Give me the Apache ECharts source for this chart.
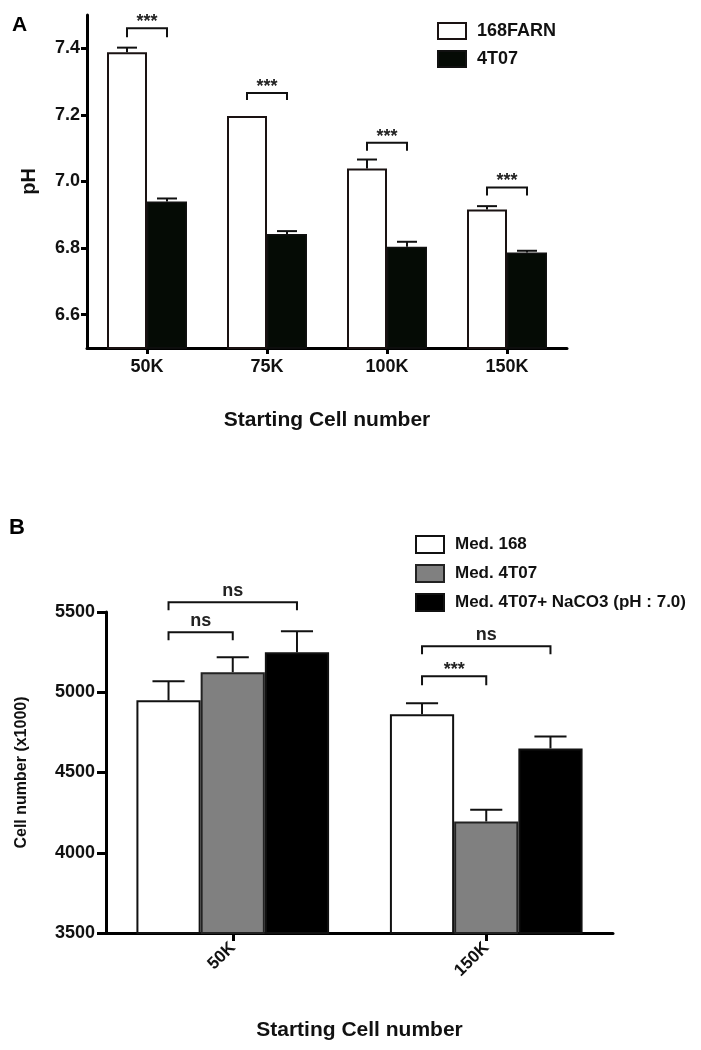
<!DOCTYPE html>
<html>
<head>
<meta charset="utf-8">
<script src="https://cdn.jsdelivr.net/npm/echarts@6/dist/echarts.min.js"></script>
<style>
html,body{margin:0;padding:0;background:#fff;}
#chart{width:701px;height:1050px;}
</style>
</head>
<body>
<div id="chart"></div>
<script>
// ---------- Panel A data ----------
const catsA = ['50K', '75K', '100K', '150K'];
const ph168 = [7.388, 7.197, 7.039, 6.916];
const ph168Err = [0.014, 0, 0.027, 0.010];
const ph4T07 = [6.940, 6.842, 6.804, 6.787];
const ph4T07Err = [0.009, 0.009, 0.015, 0.005];
const yTicksA = [6.6, 6.8, 7.0, 7.2, 7.4];
// [category, fromBar, toBar, lineValue, legValue, label]
const sigA = [
  [0, 0, 1, 7.460, 7.433, '***'],
  [1, 0, 1, 7.266, 7.245, '***'],
  [2, 0, 1, 7.116, 7.092, '***'],
  [3, 0, 1, 6.982, 6.958, '***']
];

// ---------- Panel B data ----------
const catsB = ['50K', '150K'];
const med168 = [4950, 4863];
const med168Err = [118, 69];
const med4T07 = [5125, 4195];
const med4T07Err = [93, 73];
const medNa = [5249, 4650];
const medNaErr = [131, 74];
const sigB = [
  [0, 0, 1, 5374, 5324, 'ns'],
  [0, 0, 2, 5560, 5511, 'ns'],
  [1, 0, 1, 5100, 5044, '***'],
  [1, 0, 2, 5286, 5237, 'ns']
];

const FONT = '"Liberation Sans", Arial, Helvetica, sans-serif';
const GAP_A = 1 / 3, GAP_B = 0.24;

function barX(api, cat, idx, nBars, gap) {
  const c = api.coord([cat, 0]);
  const band = api.size([1, 0])[0];
  const bw = band * (1 - gap) / nBars;
  return { x: c[0] + (idx - (nBars - 1) / 2) * bw, bw: bw };
}

function errSeries(name, vals, errs, idx, nBars, gap, ax) {
  return {
    type: 'custom', name: name + ' err', xAxisIndex: ax, yAxisIndex: ax,
    clip: false, silent: true, z: 5,
    data: vals.map((v, i) => [i, v, errs[i]]),
    renderItem: function (params, api) {
      const cat = api.value(0), v = api.value(1), e = api.value(2);
      if (!e) return { type: 'group', children: [] };
      const p = barX(api, cat, idx, nBars, gap);
      const y0 = api.coord([cat, v])[1];
      const y1 = api.coord([cat, v + e])[1];
      const hw = p.bw * 0.25;
      const st = { stroke: '#111', lineWidth: 2 };
      return {
        type: 'group', children: [
          { type: 'line', shape: { x1: p.x, y1: y0, x2: p.x, y2: y1 }, style: st },
          { type: 'line', shape: { x1: p.x - hw, y1: y1, x2: p.x + hw, y2: y1 }, style: st }
        ]
      };
    }
  };
}

function sigSeries(sig, nBars, gap, ax, starFont, nsFont) {
  return {
    type: 'custom', name: 'sig' + ax, xAxisIndex: ax, yAxisIndex: ax,
    clip: false, silent: true, z: 6,
    data: sig.map(s => [s[0], s[1], s[2], s[3], s[4]]),
    renderItem: function (params, api) {
      const s = sig[params.dataIndex];
      const cat = api.value(0);
      const a = barX(api, cat, api.value(1), nBars, gap);
      const b = barX(api, cat, api.value(2), nBars, gap);
      const yl = api.coord([cat, api.value(3)])[1];
      const yg = api.coord([cat, api.value(4)])[1];
      const st = { stroke: '#111', lineWidth: 2, fill: null };
      const isStar = s[5] === '***';
      return {
        type: 'group', children: [
          { type: 'polyline', shape: { points: [[a.x, yg], [a.x, yl], [b.x, yl], [b.x, yg]] }, style: st },
          { type: 'text', style: {
              text: s[5], x: (a.x + b.x) / 2, y: yl - (isStar ? -3 : 2),
              align: 'center', verticalAlign: 'bottom',
              font: 'bold ' + (isStar ? starFont : nsFont) + 'px ' + FONT, fill: '#222'
          } }
        ]
      };
    }
  };
}

const axisLine = { show: true, lineStyle: { color: '#000', width: 3 } };

const option = {
  animation: false,
  backgroundColor: '#fff',
  title: [
    { text: 'A', left: 7, top: 10, textStyle: { fontFamily: FONT, fontWeight: 'bold', fontSize: 21, color: '#000' } },
    { text: 'B', left: 4, top: 512, textStyle: { fontFamily: FONT, fontWeight: 'bold', fontSize: 22, color: '#000' } }
  ],
  legend: [
    {
      data: ['168FARN', '4T07'], orient: 'vertical', left: 437, top: 22, padding: 0,
      itemWidth: 28, itemHeight: 16, itemGap: 10, icon: 'rect',
      textStyle: { fontFamily: FONT, fontWeight: 'bold', fontSize: 18, color: '#111', padding: [0, 0, 0, 6] }
    },
    {
      data: ['Med. 168', 'Med. 4T07', 'Med. 4T07+ NaCO3 (pH : 7.0)'], orient: 'vertical', left: 415, top: 535, padding: 0,
      itemWidth: 28, itemHeight: 17, itemGap: 10, icon: 'rect',
      textStyle: { fontFamily: FONT, fontWeight: 'bold', fontSize: 17, color: '#111', padding: [0, 0, 0, 6] }
    }
  ],
  grid: [
    { left: 87, top: 15, width: 480, height: 333 },
    { left: 106, top: 612, width: 507, height: 321 }
  ],
  xAxis: [
    {
      type: 'category', gridIndex: 0, data: catsA,
      axisLine: axisLine,
      axisTick: { show: true, alignWithLabel: true, length: 6, lineStyle: { width: 3, color: '#000' } },
      axisLabel: { margin: 10, fontFamily: FONT, fontWeight: 'bold', fontSize: 18, color: '#111' },
      name: 'Starting Cell number', nameLocation: 'middle', nameGap: 62,
      nameTextStyle: { fontFamily: FONT, fontWeight: 'bold', fontSize: 21, color: '#111' }
    },
    {
      type: 'category', gridIndex: 1, data: catsB,
      axisLine: axisLine,
      axisTick: { show: true, alignWithLabel: true, length: 8, lineStyle: { width: 3, color: '#000' } },
      axisLabel: { margin: 12, rotate: 45, fontFamily: FONT, fontWeight: 'bold', fontSize: 17, color: '#111' },
      name: 'Starting Cell number', nameLocation: 'middle', nameGap: 87,
      nameTextStyle: { fontFamily: FONT, fontWeight: 'bold', fontSize: 21, color: '#111' }
    }
  ],
  yAxis: [
    {
      type: 'value', gridIndex: 0, min: 6.5, max: 7.5,
      splitLine: { show: false },
      axisLine: axisLine,
      axisTick: { show: true, length: 6, lineStyle: { width: 3, color: '#000' }, customValues: yTicksA },
      axisLabel: { margin: 7, fontFamily: FONT, fontWeight: 'bold', fontSize: 18, color: '#111',
        customValues: yTicksA, formatter: v => Number(v).toFixed(1) },
      name: 'pH', nameLocation: 'middle', nameGap: 48,
      nameTextStyle: { fontFamily: FONT, fontWeight: 'bold', fontSize: 20, color: '#111' }
    },
    {
      type: 'value', gridIndex: 1, min: 3500, max: 5500, interval: 500,
      splitLine: { show: false },
      axisLine: axisLine,
      axisTick: { show: true, length: 9, lineStyle: { width: 3, color: '#000' } },
      axisLabel: { margin: 11, fontFamily: FONT, fontWeight: 'bold', fontSize: 18, color: '#111',
        formatter: v => String(v) },
      name: 'Cell number (x1000)', nameLocation: 'middle', nameGap: 76,
      nameTextStyle: { fontFamily: FONT, fontWeight: 'bold', fontSize: 16, color: '#111' }
    }
  ],
  series: [
    { type: 'bar', name: '168FARN', xAxisIndex: 0, yAxisIndex: 0, data: ph168,
      barGap: '0%', barCategoryGap: (GAP_A * 100) + '%',
      itemStyle: { color: '#fff', borderColor: '#1a1212', borderWidth: 2 } },
    { type: 'bar', name: '4T07', xAxisIndex: 0, yAxisIndex: 0, data: ph4T07,
      barGap: '0%', barCategoryGap: (GAP_A * 100) + '%',
      itemStyle: { color: '#050b05', borderColor: '#111', borderWidth: 1.5 } },
    errSeries('168FARN', ph168, ph168Err, 0, 2, GAP_A, 0),
    errSeries('4T07', ph4T07, ph4T07Err, 1, 2, GAP_A, 0),
    sigSeries(sigA, 2, GAP_A, 0, 18, 16),

    { type: 'bar', name: 'Med. 168', xAxisIndex: 1, yAxisIndex: 1, data: med168,
      barGap: '0%', barCategoryGap: (GAP_B * 100) + '%',
      itemStyle: { color: '#fff', borderColor: '#111', borderWidth: 2 } },
    { type: 'bar', name: 'Med. 4T07', xAxisIndex: 1, yAxisIndex: 1, data: med4T07,
      barGap: '0%', barCategoryGap: (GAP_B * 100) + '%',
      itemStyle: { color: '#808080', borderColor: '#222', borderWidth: 2 } },
    { type: 'bar', name: 'Med. 4T07+ NaCO3 (pH : 7.0)', xAxisIndex: 1, yAxisIndex: 1, data: medNa,
      barGap: '0%', barCategoryGap: (GAP_B * 100) + '%',
      itemStyle: { color: '#000', borderColor: '#111', borderWidth: 2 } },
    errSeries('Med. 168', med168, med168Err, 0, 3, GAP_B, 1),
    errSeries('Med. 4T07', med4T07, med4T07Err, 1, 3, GAP_B, 1),
    errSeries('Med. NaCO3', medNa, medNaErr, 2, 3, GAP_B, 1),
    sigSeries(sigB, 3, GAP_B, 1, 18, 18)
  ]
};

const chart = echarts.init(document.getElementById('chart'), null, { renderer: 'canvas' });
chart.setOption(option);
</script>
</body>
</html>
